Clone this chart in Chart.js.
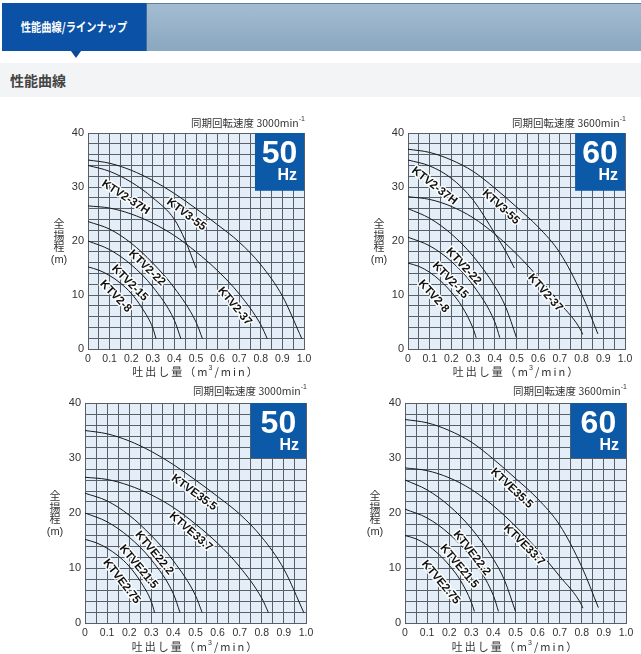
<!DOCTYPE html>
<html lang="ja">
<head>
<meta charset="UTF-8">
<title>性能曲線</title>
<script src="https://cdn.jsdelivr.net/npm/chart.js"></script>
<style>
    body { margin: 0; width: 641px; height: 654px; background: #fff; position: relative; overflow: hidden; font-family: "Noto Sans CJK JP", sans-serif; }
    .hdr { position: absolute; left: 2px; top: 3px; width: 639px; height: 48px; background: linear-gradient(#a3bcd1, #8aa7c1); border-top: 1px solid #5f7f9f; box-sizing: border-box; }
    .tab { position: absolute; left: 2px; top: 3px; width: 145px; height: 48px; background: #0b52a6; color: #fff; font-weight: bold; font-size: 12.5px; line-height: 48px; text-align: center; border-right: 1px solid #3d6f9e; box-sizing: border-box; }
    .tab span { display: inline-block; transform: scaleX(0.82); white-space: nowrap; }
    .tri { position: absolute; left: 71px; top: 51px; width: 0; height: 0; border-left: 5px solid transparent; border-right: 5px solid transparent; border-top: 7px solid #0b4a94; }
    .band { position: absolute; left: 0; top: 63px; width: 641px; height: 34px; background: #f3f4f6; }
    .band span { position: absolute; left: 10px; top: 7px; font-size: 14px; font-weight: bold; color: #444; }
    canvas { position: absolute; }
</style>
</head>
<body>
    <div class="hdr"></div>
    <div class="tab"><span>性能曲線/ラインナップ</span></div>
    <div class="tri"></div>
    <div class="band"><span>性能曲線</span></div>

    <canvas id="c1" width="280" height="270" style="left:40px;top:110px"></canvas>
    <canvas id="c2" width="281" height="270" style="left:360px;top:110px"></canvas>
    <canvas id="c3" width="280" height="274" style="left:40px;top:380px"></canvas>
    <canvas id="c4" width="281" height="274" style="left:360px;top:380px"></canvas>

<script>
    // tick labels
    const xTickLabels = ['0', '0.1', '0.2', '0.3', '0.4', '0.5', '0.6', '0.7', '0.8', '0.9', '1.0'];
    const yTickLabels = ['0', '10', '20', '30', '40'];

    // 50Hz curves (flow m3/min, head m)
    const q50A = [0, 0.1, 0.2, 0.3, 0.4, 0.5, 0.6, 0.7, 0.8, 0.9, 0.99];
    const h50A = [35, 34.4, 33.1, 31.2, 28.8, 26, 23, 19.8, 15.6, 9.8, 1.9];
    const q50H = [0, 0.1, 0.2, 0.3, 0.4, 0.45, 0.5];
    const h50H = [34, 32.9, 30.9, 28, 24, 20.1, 15];
    const q50B = [0, 0.1, 0.2, 0.3, 0.4, 0.5, 0.6, 0.7, 0.8, 0.83];
    const h50B = [26.5, 26.1, 25, 23.3, 21, 18, 14.5, 10.2, 4.5, 1.9];
    const q50C = [0, 0.1, 0.2, 0.3, 0.4, 0.5, 0.53];
    const h50C = [23.6, 22.2, 19.6, 15.9, 11.3, 5, 1.9];
    const q50D = [0, 0.1, 0.2, 0.3, 0.4, 0.43];
    const h50D = [20, 18.4, 15.6, 11.5, 5.3, 1.9];
    const q50E = [0, 0.05, 0.1, 0.15, 0.2, 0.25, 0.3, 0.315];
    const h50E = [15.2, 14.6, 13.6, 12.2, 10.3, 7.6, 3.9, 1.9];

    // 60Hz curves
    const q60A = [0, 0.1, 0.2, 0.3, 0.4, 0.5, 0.6, 0.7, 0.8, 0.875];
    const h60A = [37, 36.4, 35, 32.9, 29.8, 26.3, 22.6, 17.8, 10.2, 2.8];
    const q60H = [0, 0.1, 0.2, 0.3, 0.4, 0.45, 0.49];
    const h60H = [35, 33.9, 31.6, 27.6, 21.4, 18.1, 15];
    const q60B = [0, 0.1, 0.2, 0.3, 0.4, 0.5, 0.6, 0.7, 0.8, 0.805];
    const h60B = [28.2, 27.7, 26.4, 24.3, 21.3, 17.6, 13.3, 8.5, 3.2, 2.7];
    const q60C = [0, 0.1, 0.2, 0.3, 0.4, 0.45, 0.5];
    const h60C = [26, 24.2, 21.3, 17.2, 11.6, 7.8, 2.1];
    const q60D = [0, 0.1, 0.2, 0.3, 0.4, 0.423];
    const h60D = [20.7, 19.1, 16.2, 11.8, 5, 2.1];
    const q60E = [0, 0.05, 0.1, 0.15, 0.2, 0.25, 0.3, 0.314];
    const h60E = [15.9, 15.3, 14.2, 12.6, 10.5, 7.8, 3.8, 2.1];

    // model names
    const namesKTV = ['KTV3-55', 'KTV2-37H', 'KTV2-37', 'KTV2-22', 'KTV2-15', 'KTV2-8'];
    const namesKTVE = ['KTVE35.5', 'KTVE33.7', 'KTVE22.2', 'KTVE21.5', 'KTVE2.75'];

    const FONT = '"Liberation Sans", Arial, sans-serif';
    const JP = '"Noto Sans CJK JP", sans-serif';

    function pts(q, h) {
        return q.map((v, i) => ({x: v, y: h[i]}));
    }

    const pagePlugin = {
        id: 'page',
        beforeDraw(chart, args, o) {
            const {ctx, chartArea: a} = chart;
            ctx.save();
            ctx.fillStyle = '#e3eef8';
            ctx.fillRect(a.left, a.top, a.right - a.left, a.bottom - a.top);
            ctx.restore();
        },
        afterDatasetsDraw(chart, args, o) {
            const {ctx, chartArea: a} = chart;
            const xs = chart.scales.x, ys = chart.scales.y;
            ctx.save();
            // Hz badge
            const bx = xs.getPixelForValue(o.badgeX);
            const by = ys.getPixelForValue(o.badgeY);
            ctx.fillStyle = '#0c59a8';
            ctx.fillRect(bx, a.top, a.right - bx, by - a.top);
            ctx.fillStyle = '#fff';
            ctx.textAlign = 'center';
            ctx.textBaseline = 'alphabetic';
            ctx.font = 'bold 32px ' + FONT;
            ctx.fillText(o.hz, (bx + a.right) / 2, a.top + 30);
            ctx.textAlign = 'right';
            ctx.font = 'bold 16px ' + FONT;
            ctx.fillText('Hz', a.right - 7, a.top + 47);

            // curve labels
            ctx.font = 'bold 11.5px ' + FONT;
            ctx.textAlign = 'center';
            ctx.textBaseline = 'middle';
            ctx.lineJoin = 'round';
            o.labels.forEach(l => {
                ctx.save();
                ctx.translate(xs.getPixelForValue(l.x), ys.getPixelForValue(l.y));
                ctx.rotate(l.angle * Math.PI / 180);
                ctx.strokeStyle = 'rgba(255,255,255,0.95)';
                ctx.lineWidth = 3;
                ctx.strokeText(l.text, 0, 0);
                ctx.fillStyle = '#111';
                ctx.fillText(l.text, 0, 0);
                ctx.restore();
            });
            ctx.restore();
        },
        afterDraw(chart, args, o) {
            const {ctx, chartArea: a} = chart;
            ctx.save();
            ctx.fillStyle = '#333';
            ctx.textBaseline = 'middle';

            // speed title
            ctx.textAlign = 'right';
            ctx.font = '7px ' + FONT;
            const supW = ctx.measureText('-1').width;
            ctx.fillText('-1', a.right + 1, a.top - o.titleGap - 4);
            ctx.font = '10.5px ' + JP;
            ctx.fillText(o.speed, a.right + 1 - supW, a.top - o.titleGap);

            // x axis title
            ctx.font = '11px ' + JP;
            ctx.letterSpacing = '2px';
            const cx = (a.left + a.right) / 2;
            const t1 = '吐出し量（m', t2 = '/min）';
            const w1 = ctx.measureText(t1).width, w2 = ctx.measureText(t2).width;
            const tx = cx - (w1 + w2 + 5) / 2;
            const ty = a.bottom + o.xTitleGap;
            ctx.textAlign = 'left';
            ctx.fillText(t1, tx, ty);
            ctx.letterSpacing = '0px';
            ctx.font = '7px ' + FONT;
            ctx.fillText('3', tx + w1 - 1, ty - 4);
            ctx.font = '11px ' + JP;
            ctx.letterSpacing = '2px';
            ctx.fillText(t2, tx + w1 + 5, ty);
            ctx.letterSpacing = '0px';

            // y axis title
            ctx.textAlign = 'center';
            ctx.font = '11px ' + JP;
            const yx = a.left + o.yTitleX;
            const my = (a.top + a.bottom) / 2;
            ctx.fillText('全', yx, my - 17);
            ctx.fillText('揚', yx, my - 5.5);
            ctx.fillText('程', yx, my + 6);
            ctx.font = '11px ' + FONT;
            ctx.fillText('(m)', yx, my + 19);
            ctx.restore();
        }
    };

    function makeChart(id, cfg) {
        const datasets = cfg.curves.map(c => ({
            data: pts(c[0], c[1]),
            borderColor: '#1a1a1a',
            borderWidth: 1,
            pointRadius: 0,
            fill: false,
            cubicInterpolationMode: 'monotone'
        }));
        return new Chart(document.getElementById(id), {
            type: 'line',
            data: {datasets: datasets},
            plugins: [pagePlugin],
            options: {
                responsive: false,
                animation: false,
                layout: {padding: {top: 23, right: cfg.padRight, left: 0, bottom: 0}},
                plugins: {
                    legend: {display: false},
                    tooltip: {enabled: false},
                    page: {
                        hz: cfg.hz, speed: cfg.speed, badgeX: cfg.badgeX, badgeY: cfg.badgeY,
                        labels: cfg.labels, titleGap: cfg.titleGap, xTitleGap: cfg.xTitleGap,
                        yTitleX: cfg.yTitleX
                    }
                },
                scales: {
                    x: {
                        type: 'linear', min: 0, max: 1,
                        grid: {color: '#5a5f66', lineWidth: 1, drawTicks: false},
                        border: {color: '#5a5f66'},
                        ticks: {
                            stepSize: 0.05, autoSkip: false, maxRotation: 0, padding: 4,
                            color: '#333', font: {family: FONT, size: 10.5},
                            callback: v => {
                                const i = Math.round(v * 20);
                                return i % 2 === 0 ? xTickLabels[i / 2] : '';
                            }
                        },
                        afterFit: s => { s.height = cfg.xHeight; }
                    },
                    y: {
                        type: 'linear', min: 0, max: 40,
                        grid: {color: '#5a5f66', lineWidth: 1, drawTicks: false},
                        border: {color: '#5a5f66'},
                        ticks: {
                            stepSize: 2, autoSkip: false, padding: 4,
                            color: '#333', font: {family: FONT, size: 11},
                            callback: v => (v % 10 === 0 ? yTickLabels[v / 10] : '')
                        },
                        afterFit: s => { s.width = cfg.yWidth; }
                    }
                }
            }
        });
    }

    makeChart('c1', {
        hz: '50', speed: '同期回転速度 3000min', badgeX: 0.773, badgeY: 29.3,
        padRight: 16, xHeight: 31, yWidth: 48, titleGap: 10, xTitleGap: 23, yTitleX: -29,
        curves: [[q50A, h50A], [q50H, h50H], [q50B, h50B], [q50C, h50C], [q50D, h50D], [q50E, h50E]],
        labels: [
            {text: namesKTV[0], x: 0.455, y: 24.9, angle: 37},
            {text: namesKTV[1], x: 0.174, y: 28.1, angle: 33},
            {text: namesKTV[2], x: 0.679, y: 7.9, angle: 50},
            {text: namesKTV[3], x: 0.273, y: 15, angle: 44},
            {text: namesKTV[4], x: 0.193, y: 12.2, angle: 45},
            {text: namesKTV[5], x: 0.128, y: 9.75, angle: 46}
        ]
    });

    makeChart('c2', {
        hz: '60', speed: '同期回転速度 3600min', badgeX: 0.77, badgeY: 29.3,
        padRight: 16, xHeight: 31, yWidth: 48, titleGap: 10, xTitleGap: 23, yTitleX: -29,
        curves: [[q60A, h60A], [q60H, h60H], [q60B, h60B], [q60C, h60C], [q60D, h60D], [q60E, h60E]],
        labels: [
            {text: namesKTV[0], x: 0.428, y: 26.3, angle: 42},
            {text: namesKTV[1], x: 0.121, y: 30.2, angle: 38},
            {text: namesKTV[2], x: 0.632, y: 10.4, angle: 48},
            {text: namesKTV[3], x: 0.256, y: 15.3, angle: 47},
            {text: namesKTV[4], x: 0.195, y: 12.7, angle: 46},
            {text: namesKTV[5], x: 0.118, y: 9.75, angle: 48}
        ]
    });

    makeChart('c3', {
        hz: '50', speed: '同期回転速度 3000min', badgeX: 0.75, badgeY: 30,
        padRight: 14, xHeight: 31, yWidth: 45, titleGap: 12, xTitleGap: 24, yTitleX: -30,
        curves: [[q50A, h50A], [q50B, h50B], [q50C, h50C], [q50D, h50D], [q50E, h50E]],
        labels: [
            {text: namesKTVE[0], x: 0.494, y: 23.7, angle: 36},
            {text: namesKTVE[1], x: 0.479, y: 16.6, angle: 41},
            {text: namesKTVE[2], x: 0.313, y: 12.7, angle: 50},
            {text: namesKTVE[3], x: 0.242, y: 10.2, angle: 50},
            {text: namesKTVE[4], x: 0.166, y: 7.55, angle: 52}
        ]
    });

    makeChart('c4', {
        hz: '60', speed: '同期回転速度 3600min', badgeX: 0.75, badgeY: 30,
        padRight: 15, xHeight: 31, yWidth: 45, titleGap: 12, xTitleGap: 24, yTitleX: -30,
        curves: [[q60A, h60A], [q60B, h60B], [q60C, h60C], [q60D, h60D], [q60E, h60E]],
        labels: [
            {text: namesKTVE[0], x: 0.483, y: 24.5, angle: 43},
            {text: namesKTVE[1], x: 0.539, y: 14.2, angle: 45},
            {text: namesKTVE[2], x: 0.302, y: 12.7, angle: 52},
            {text: namesKTVE[3], x: 0.245, y: 10.3, angle: 50},
            {text: namesKTVE[4], x: 0.162, y: 7.4, angle: 50}
        ]
    });
</script>
</body>
</html>
